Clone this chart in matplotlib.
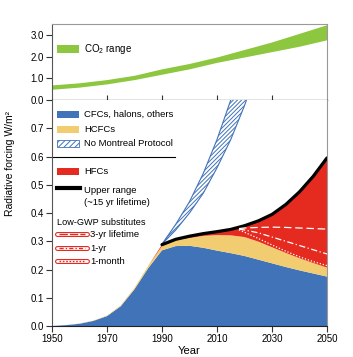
import numpy as np
import matplotlib
matplotlib.use("Agg")
import matplotlib.pyplot as plt
from matplotlib.patches import Rectangle

plt.rcParams['font.family'] = ['Liberation Sans Narrow', 'Liberation Sans', 'DejaVu Sans']
plt.rcParams['mathtext.fontset'] = 'custom'
plt.rcParams['mathtext.rm'] = 'Liberation Sans'
plt.rcParams['hatch.linewidth'] = 0.7

# CO2 range (top panel)
co2_years = [1950, 1960, 1970, 1980, 1990, 2000, 2010, 2020, 2030, 2040, 2050]
co2_low = [0.5, 0.6, 0.75, 0.95, 1.2, 1.45, 1.75, 2.0, 2.25, 2.5, 2.8]
co2_high = [0.7, 0.8, 0.95, 1.15, 1.45, 1.7, 2.0, 2.35, 2.7, 3.1, 3.5]

# stacked forcing (bottom panel)
years = [1950, 1955, 1960, 1965, 1970, 1975, 1980, 1985, 1990, 1995, 2000,
         2005, 2010, 2015, 2020, 2025, 2030, 2035, 2040, 2045, 2050]
cfc = [0.0, 0.003, 0.008, 0.018, 0.035, 0.07, 0.13, 0.205, 0.268, 0.283, 0.284,
       0.277, 0.267, 0.258, 0.248, 0.235, 0.222, 0.209, 0.197, 0.186, 0.175]
hcfc = [0.0, 0.0, 0.001, 0.001, 0.002, 0.003, 0.005, 0.008, 0.015, 0.02, 0.028,
        0.042, 0.055, 0.063, 0.067, 0.064, 0.057, 0.05, 0.043, 0.037, 0.032]
hfc = [0.0, 0.0, 0.0, 0.0, 0.0, 0.0, 0.0, 0.0, 0.005, 0.004, 0.006,
       0.008, 0.012, 0.021, 0.04, 0.073, 0.116, 0.171, 0.235, 0.307, 0.388]

# no Montreal Protocol band
nmp_years = [1990, 1995, 2000, 2005, 2010, 2015, 2020, 2025]
nmp_low = [0.29, 0.34, 0.40, 0.47, 0.56, 0.66, 0.78, 0.92]
nmp_high = [0.29, 0.36, 0.44, 0.54, 0.66, 0.80, 0.95, 1.1]

# low-GWP substitutes
gwp_years = [2018, 2020, 2025, 2030, 2035, 2040, 2045, 2050]
gwp_3yr = [0.345, 0.347, 0.349, 0.35, 0.349, 0.347, 0.345, 0.343]
gwp_1yr = [0.343, 0.34, 0.33, 0.315, 0.30, 0.285, 0.27, 0.255]
gwp_1mo = [0.34, 0.332, 0.31, 0.287, 0.265, 0.245, 0.228, 0.214]

green = '#8dc63f'
blue = '#4173b8'
yellow = '#f2cc70'
red = '#e52a20'
grey = '#999999'

fig = plt.figure(figsize=(3.53, 3.57), dpi=100)
ax1 = fig.add_axes([0.1473, 0.7199, 0.779, 0.2129])
ax2 = fig.add_axes([0.1473, 0.0868, 0.779, 0.633])

# ---- top panel
ax1.fill_between(co2_years, co2_low, co2_high, color=green, lw=0)
ax1.set_xlim(1950, 2050)
ax1.set_ylim(0, 3.53)
ax1.set_yticks([0, 1, 2, 3])
ax1.set_yticklabels(['0.0', '1.0', '2.0', '3.0'])
ax1.set_xticks([1970, 1990, 2010, 2030])
ax1.tick_params(axis='x', direction='inout', length=7, width=0.8, labelbottom=False, color='#333333')
ax1.tick_params(axis='y', direction='out', length=4, width=0.8, labelsize=7, pad=2, color='#333333')
for s in ['top', 'right']:
    ax1.spines[s].set_color(grey)
    ax1.spines[s].set_linewidth(0.8)
ax1.spines['left'].set_color('#555555')
ax1.spines['bottom'].set_color('#222222')
ax1.spines['bottom'].set_linewidth(0.9)
ax1.add_patch(Rectangle((0.018, 0.62), 0.08, 0.1, transform=ax1.transAxes, color=green, lw=0))
ax1.text(0.116, 0.67, 'CO$_2$ range', transform=ax1.transAxes, fontsize=7, va='center')

# ---- bottom panel
ax2.stackplot(years, cfc, hcfc, hfc, colors=[blue, yellow, red], lw=0)
total = np.array(cfc) + np.array(hcfc) + np.array(hfc)
yrs = np.array(years)
ax2.plot(yrs[yrs >= 1990], total[yrs >= 1990], color='black', lw=2.3, solid_capstyle='round')

ax2.fill_between(nmp_years, nmp_low, nmp_high, facecolor='white', edgecolor=blue,
                 hatch='////////', lw=0.8)

ax2.plot(gwp_years, gwp_3yr, color='white', lw=0.9, dashes=(6, 3))
ax2.plot(gwp_years, gwp_1yr, color='white', lw=0.9, dashes=(5, 2, 1, 2))
ax2.plot(gwp_years, gwp_1mo, color='white', lw=0.9, dashes=(1, 1.5))

ax2.set_xlim(1950, 2050)
ax2.set_ylim(0, 0.8)
ax2.set_yticks(np.arange(0, 0.75, 0.1))
ax2.set_yticklabels(['0.0', '0.1', '0.2', '0.3', '0.4', '0.5', '0.6', '0.7'])
ax2.set_xticks([1950, 1970, 1990, 2010, 2030, 2050])
ax2.tick_params(axis='both', direction='out', length=4, width=0.8, labelsize=7, pad=2, color='#333333')
ax2.spines['top'].set_visible(False)
ax2.spines['right'].set_color(grey)
ax2.spines['right'].set_linewidth(0.8)
ax2.spines['left'].set_color('#555555')
ax2.spines['bottom'].set_color('#222222')
ax2.set_xlabel('Year', fontsize=8, labelpad=1)
ax2.set_ylabel('Radiative forcing W/m²', fontsize=7.5)
ax2.yaxis.set_label_coords(-0.135, 0.72)

# manual legend in axes coords
def fx(px):
    return (px - 52) / 275.0

def fy(py):
    return (326 - py) / 226.0

tfs = 6.8
sw = fx(79) - fx(57)
for py, col, label in [(114, blue, 'CFCs, halons, others'), (129, yellow, 'HCFCs'), (171, red, 'HFCs')]:
    ax2.add_patch(Rectangle((fx(57), fy(py + 3.5)), sw, 7 / 226.0, transform=ax2.transAxes,
                            facecolor=col, lw=0))
    ax2.text(fx(84), fy(py), label, transform=ax2.transAxes, fontsize=tfs, va='center')
ax2.add_patch(Rectangle((fx(57), fy(146.5)), sw, 7 / 226.0, transform=ax2.transAxes,
                        facecolor='white', edgecolor=blue, hatch='//////', lw=0.6))
ax2.text(fx(84), fy(143), 'No Montreal Protocol', transform=ax2.transAxes, fontsize=tfs, va='center')
ax2.plot([0, fx(175)], [fy(157), fy(157)], transform=ax2.transAxes, color='black', lw=0.8)
ax2.plot([fx(57), fx(80)], [fy(188), fy(188)], transform=ax2.transAxes, color='black', lw=3)
ax2.text(fx(84), fy(190), 'Upper range', transform=ax2.transAxes, fontsize=tfs, va='center')
ax2.text(fx(84), fy(202), '(~15 yr lifetime)', transform=ax2.transAxes, fontsize=tfs, va='center')
ax2.text(fx(57), fy(222), 'Low-GWP substitutes', transform=ax2.transAxes, fontsize=6.6, va='center')
for py, dsh, label in [(234, (6, 1.5), '3-yr lifetime'), (248, (3, 1.5, 1, 1.5), '1-yr'),
                       (261, (1.2, 1.2), '1-month')]:
    ax2.plot([fx(57), fx(87)], [fy(py), fy(py)], transform=ax2.transAxes, color=red, lw=3.6,
             solid_capstyle='round')
    ax2.plot([fx(57), fx(87)], [fy(py), fy(py)], transform=ax2.transAxes, color='white', lw=2.0,
             solid_capstyle='round')
    ax2.plot([fx(59), fx(85)], [fy(py), fy(py)], transform=ax2.transAxes, color=red, lw=1.0,
             dashes=dsh)
    ax2.text(fx(90), fy(py), label, transform=ax2.transAxes, fontsize=tfs, va='center')

fig.savefig('out.png', dpi=100)
